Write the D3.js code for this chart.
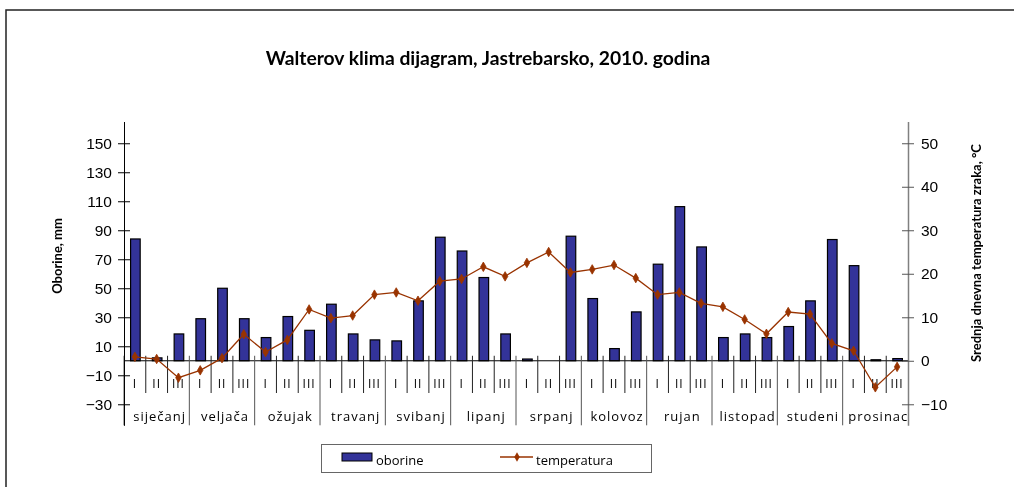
<!DOCTYPE html>
<html>
<head>
<meta charset="utf-8">
<script src="https://cdn.jsdelivr.net/npm/d3@7"></script>
<style>
  body { margin: 0; background: #fff; }
  svg { will-change: transform; }
  .tick text { font-family: "Liberation Sans", Arial, sans-serif; font-size: 15.5px; fill: #000; }
  .cat { font-family: "Open Sans", sans-serif; fill: #000; }
</style>
</head>
<body>
<div id="chart"></div>
<script>
// data, one value per decade (I, II, III) of every month
var months = ['siječanj', 'veljača', 'ožujak', 'travanj', 'svibanj', 'lipanj',
              'srpanj', 'kolovoz', 'rujan', 'listopad', 'studeni', 'prosinac'];
var decades = ['I', 'II', 'III'];

var oborine = [84, 2, 18.5, 29, 50, 29, 16, 30.5, 21, 39, 18.5, 14.4,
               13.7, 41.3, 85.2, 75.7, 57.4, 18.5, 1.2, 0, 85.9, 42.9, 8.4, 33.7,
               66.6, 106.3, 78.5, 16, 18.5, 16, 23.6, 41.3, 83.6, 65.6, 0.7, 1.5];

var temperatura = [0.9, 0.4, -3.9, -2.2, 0.6, 6.1, 2.0, 4.8, 11.8, 9.8, 10.4, 15.2,
                   15.7, 13.8, 18.3, 18.8, 21.6, 19.4, 22.5, 25.0, 20.3, 21.0, 22.0, 19.0,
                   15.2, 15.7, 13.2, 12.4, 9.5, 6.2, 11.2, 10.7, 4.0, 2.3, -6.1, -1.4];

var leftTicks = [-30, -10, 10, 30, 50, 70, 90, 110, 130, 150];
var rightTicks = [-10, 0, 10, 20, 30, 40, 50];

// sizes (plotTop etc. because "top" is taken by window.top)
var width = 1014,
    height = 487,
    plotLeft = 124,
    plotRight = 908,
    plotTop = 121.5,
    plotBottom = 425.3;

var barColor = '#333399',
    lineColor = '#993300';

var svg = d3.select('#chart').append('svg')
  .attr('width', width)
  .attr('height', height);

// frame of the chart
svg.append('rect')
  .attr('x', 6)
  .attr('y', 10)
  .attr('width', 1100)
  .attr('height', 600)
  .style('fill', '#fff')
  .style('stroke', '#222')
  .style('stroke-width', 1.5);

svg.append('text')
  .attr('x', 488)
  .attr('y', 65)
  .attr('text-anchor', 'middle')
  .style('font-family', 'Lato, sans-serif')
  .style('font-weight', 'bold')
  .style('font-size', '19.3px')
  .text('Walterov klima dijagram, Jastrebarsko, 2010. godina');

var idx = d3.range(oborine.length);

var xScale = d3.scaleBand()
  .domain(idx)
  .range([plotLeft, plotRight]);

var yLeft = d3.scaleLinear()
  .domain([-44.5, 165])
  .range([plotBottom, plotTop]);

var yRight = d3.scaleLinear()
  .domain([-44.5 / 3, 55])
  .range([plotBottom, plotTop]);

var zeroY = yLeft(0);

// bars (oborine)
var barW = xScale.bandwidth() * 0.44;
svg.append('g').selectAll('rect')
  .data(oborine)
  .enter()
  .append('rect')
  .attr('x', function(d, i) { return xScale(i) + (xScale.bandwidth() - barW) / 2 + 0.5; })
  .attr('y', function(d) { return yLeft(d); })
  .attr('width', barW)
  .attr('height', function(d) { return zeroY - yLeft(d); })
  .style('fill', barColor)
  .style('stroke', function(d) { return d > 0 ? '#000' : 'none'; })
  .style('stroke-width', 1.2);

// zero line
svg.append('line')
  .attr('x1', plotLeft).attr('x2', plotRight)
  .attr('y1', zeroY).attr('y2', zeroY)
  .style('stroke', '#000');

// decade ticks and month lines
var cat = svg.append('g');
idx.forEach(function(i) {
  var isMonth = i % 3 === 0;
  cat.append('line')
    .attr('x1', xScale(i)).attr('x2', xScale(i))
    .attr('y1', zeroY - 5)
    .attr('y2', isMonth ? plotBottom : 393)
    .style('stroke', isMonth ? '#555' : '#222');
});

cat.selectAll('text.dec')
  .data(idx)
  .enter()
  .append('text')
  .attr('class', 'cat dec')
  .attr('x', function(i) { return xScale(i) + xScale.bandwidth() / 2; })
  .attr('y', 388)
  .attr('text-anchor', 'middle')
  .style('font-size', '12px')
  .style('letter-spacing', '1px')
  .text(function(i) { return decades[i % 3]; });

cat.selectAll('text.mon')
  .data(months)
  .enter()
  .append('text')
  .attr('class', 'cat mon')
  .attr('x', function(d, m) { return xScale(m * 3) + xScale.bandwidth() * 1.5 + 3; })
  .attr('y', 421)
  .attr('text-anchor', 'middle')
  .style('font-size', '13px')
  .style('letter-spacing', '1px')
  .text(function(d) { return d; });

// left axis
var leftAxis = svg.append('g')
  .attr('transform', 'translate(' + plotLeft + ',0)')
  .call(d3.axisLeft(yLeft).tickValues(leftTicks).tickSizeInner(6).tickSizeOuter(0).tickPadding(6));
leftAxis.selectAll('.tick line').attr('x1', 6);
leftAxis.select('.domain').style('stroke', '#000');

// right axis
var rightAxis = svg.append('g')
  .attr('transform', 'translate(' + plotRight + ',0)')
  .call(d3.axisRight(yRight).tickValues(rightTicks).tickSizeInner(6).tickSizeOuter(0).tickPadding(7));
rightAxis.selectAll('.tick line').attr('x1', -6).style('stroke', '#555');
rightAxis.select('.domain').style('stroke', '#808080').style('stroke-width', 1.5);

// axis titles
svg.append('text')
  .attr('transform', 'translate(62,256) rotate(-90)')
  .attr('text-anchor', 'middle')
  .style('font-family', 'Lato, sans-serif')
  .style('font-weight', 'bold')
  .style('font-size', '13px')
  .text('Oborine, mm');

svg.append('text')
  .attr('transform', 'translate(981,253) rotate(-90)')
  .attr('text-anchor', 'middle')
  .style('font-family', 'Lato, sans-serif')
  .style('font-weight', 'bold')
  .style('font-size', '13px')
  .text('Srednja dnevna temperatura zraka, °C');

// temperature line
var line = d3.line()
  .x(function(d, i) { return xScale(i) + xScale.bandwidth() / 2; })
  .y(function(d) { return yRight(d); });

svg.append('path')
  .datum(temperatura)
  .attr('d', line)
  .style('fill', 'none')
  .style('stroke', lineColor)
  .style('stroke-width', 1.3);

var marker = d3.symbol().type(d3.symbolDiamond).size(26);
svg.append('g').selectAll('path')
  .data(temperatura)
  .enter()
  .append('path')
  .attr('d', marker)
  .attr('transform', function(d, i) {
    return 'translate(' + (xScale(i) + xScale.bandwidth() / 2) + ',' + yRight(d) + ')';
  })
  .style('fill', lineColor)
  .style('stroke', lineColor)
  .style('stroke-width', 0.8);

// legend
var legend = svg.append('g');
legend.append('rect')
  .attr('x', 321.5).attr('y', 444.5)
  .attr('width', 330).attr('height', 28)
  .style('fill', '#fff')
  .style('stroke', '#666');
legend.append('rect')
  .attr('x', 342).attr('y', 453)
  .attr('width', 30).attr('height', 8)
  .style('fill', barColor)
  .style('stroke', '#000');
legend.append('text')
  .attr('class', 'cat')
  .attr('x', 376).attr('y', 465)
  .style('font-size', '13px')
  .text('oborine');
legend.append('line')
  .attr('x1', 500).attr('x2', 533)
  .attr('y1', 457).attr('y2', 457)
  .style('stroke', lineColor)
  .style('stroke-width', 1.3);
legend.append('path')
  .attr('d', marker)
  .attr('transform', 'translate(517,457)')
  .style('fill', lineColor);
legend.append('text')
  .attr('class', 'cat')
  .attr('x', 536).attr('y', 465)
  .style('font-size', '13px')
  .text('temperatura');
</script>
</body>
</html>
